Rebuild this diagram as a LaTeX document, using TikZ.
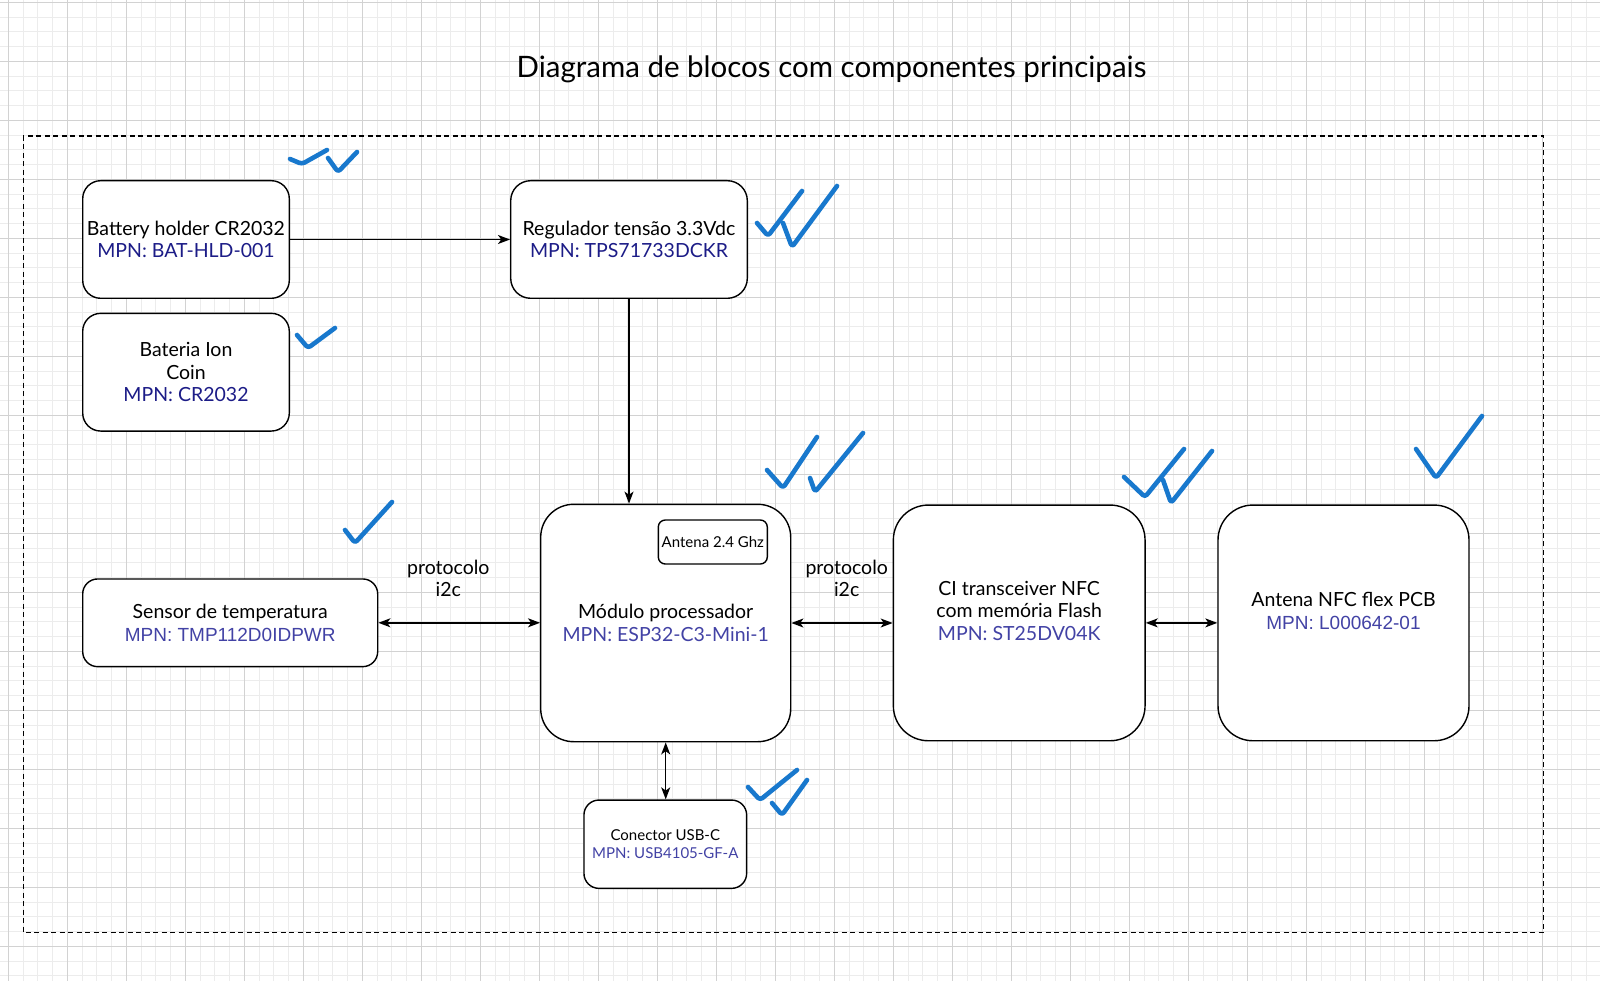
\documentclass[tikz,border=0pt]{standalone}
\usepackage{fontspec}
\setmainfont{Lato}
\newfontfamily\arialf{Liberation Sans}
\usetikzlibrary{arrows.meta}
\definecolor{mpnA}{RGB}{28,28,135}
\definecolor{mpnB}{RGB}{66,66,165}
\definecolor{checkblue}{RGB}{24,120,205}
\definecolor{gridminor}{RGB}{236,236,236}
\definecolor{gridmajor}{RGB}{210,210,210}
\begin{document}
\begin{tikzpicture}[x=1pt,y=-1pt,
  gminor/.style={draw=gridminor,line width=0.8pt},
  gmajor/.style={draw=gridmajor,line width=1pt},
  blockbox/.style={draw=black,line width=1.4pt,fill=white,rectangle,inner sep=0pt,align=center,
    font=\fontsize{19.5}{22.4}\selectfont},
  smalltxt/.style={font=\fontsize{15}{17.6}\selectfont},
  txt/.style={align=center,inner sep=0pt,font=\fontsize{19.5}{22.4}\selectfont},
  conn/.style={draw=black,line width=1.4pt},
  tip/.tip={Stealth[length=12pt,width=9pt,inset=3.2pt]},
  onearrow/.style={conn,-tip},
  twoarrow/.style={conn,tip-tip},
  checkmark/.style={draw=checkblue,line width=4.6pt,line cap=round,line join=round,rounded corners=3pt},
  border/.style={draw=black,line width=1.3pt,dash pattern=on 5pt off 3.5pt}
]
\useasboundingbox (0,0) rectangle (1600,981);
\fill[white] (0,0) rectangle (1600,981);
% grid
\foreach \k in {0,...,108} { \draw[gminor] ({8.3+14.75*\k},0) -- ({8.3+14.75*\k},981); }
\foreach \k in {0,...,66} { \draw[gminor] (0,{2.3+14.75*\k}) -- (1600,{2.3+14.75*\k}); }
\foreach \k in {0,...,26} { \draw[gmajor] ({8.3+59*\k},0) -- ({8.3+59*\k},981); }
\foreach \k in {0,...,16} { \draw[gmajor] (0,{2.3+59*\k}) -- (1600,{2.3+59*\k}); }

% title
\node[txt,font=\fontsize{29.5}{34}\selectfont] (title) at (831.5,69) {Diagrama de blocos com componentes principais};

% dashed border
\draw[border] (23.3,136) rectangle (1543.3,932.7);

% blocks
\node[blockbox,minimum width=206.6,minimum height=117.6,rounded corners=18pt] (bat) at (186,239.5)
  {Battery holder CR2032\\\textcolor{mpnA}{MPN: BAT-HLD-001}};
\node[blockbox,minimum width=206.6,minimum height=117.7,rounded corners=18pt] (ion) at (186,372.2)
  {Bateria Ion\\Coin\\\textcolor{mpnA}{MPN: CR2032}};
\node[blockbox,minimum width=236.6,minimum height=117.6,rounded corners=20pt] (reg) at (629,239.5)
  {Regulador tensão 3.3Vdc\\\textcolor{mpnA}{MPN: TPS71733DCKR}};
\node[blockbox,minimum width=250,minimum height=237.4,rounded corners=33pt] (mod) at (665.7,623)
  {Módulo processador\\\textcolor{mpnB}{MPN: ESP32-C3-Mini-1}};
\node[blockbox,smalltxt,minimum width=109,minimum height=44,rounded corners=7pt] (ant) at (712.8,542)
  {Antena 2.4 Ghz};
\node[blockbox,minimum width=295,minimum height=87.7,rounded corners=15pt] (sen) at (230.2,622.8)
  {Sensor de temperatura\\\textcolor{mpnB}{\arialf\fontsize{19}{22.4}\selectfont MPN: TMP112D0IDPWR}};
\node[blockbox,smalltxt,minimum width=162.7,minimum height=88.3,rounded corners=15pt] (usb) at (665.3,844.2)
  {Conector USB-C\\\textcolor{mpnB}{MPN: USB4105-GF-A}};
\node[blockbox,minimum width=251.7,minimum height=235.7,rounded corners=35pt] (nfc) at (1019.2,622.9) {};
\node[txt] (nfct) at ([yshift=12pt]nfc.center)
  {CI transceiver NFC\\com memória Flash\\\textcolor{mpnB}{MPN: ST25DV04K}};
\node[blockbox,minimum width=251,minimum height=235.7,rounded corners=35pt] (ann) at (1343.5,622.9) {};
\node[txt] (annt) at ([yshift=12pt]ann.center)
  {Antena NFC flex PCB\\\textcolor{mpnB}{\arialf\fontsize{19}{22.4}\selectfont MPN: L000642-01}};

% connector labels
\node[txt] (lab1) at (448.3,578.5) {protocolo\\i2c};
\node[txt] (lab2) at (846.7,578.5) {protocolo\\i2c};

% connectors
\draw[onearrow] (bat.east) -- (reg.west);
\draw[onearrow] (reg.south) -- (reg.south |- mod.north);
\draw[twoarrow] (sen.east) -- (sen.east -| mod.west);
\draw[twoarrow] (mod.east) -- (mod.east -| nfc.west);
\draw[twoarrow] (nfc.east) -- (nfc.east -| ann.west);
\draw[twoarrow] (mod.south) -- (mod.south |- usb.north);

% hand-drawn check marks
\draw[checkmark] (290,159) -- (302,164) -- (327,150);
\draw[checkmark] (328,158) -- (338,172) -- (357,152);
\draw[checkmark] (297,335) -- (308,348) -- (335,328);
\draw[checkmark] (757,223) -- (768,236) -- (802,191);
\draw[checkmark] (783,223) -- (792,247) -- (837,186);
\draw[checkmark] (767,470) -- (783,488) -- (817,437);
\draw[checkmark] (810,478) -- (815,492) -- (863,433);
\draw[checkmark] (345,530) -- (355,543) -- (392,502);
\draw[checkmark] (748,787) -- (760,800) -- (797,770);
\draw[checkmark] (772,803) -- (782,815) -- (807,780);
\draw[checkmark] (1124,477) -- (1145,497) -- (1184,449);
\draw[checkmark] (1163,480) -- (1171,503) -- (1212,451);
\draw[checkmark] (1416,449) -- (1436,478) -- (1482,416);
\end{tikzpicture}
\end{document}
